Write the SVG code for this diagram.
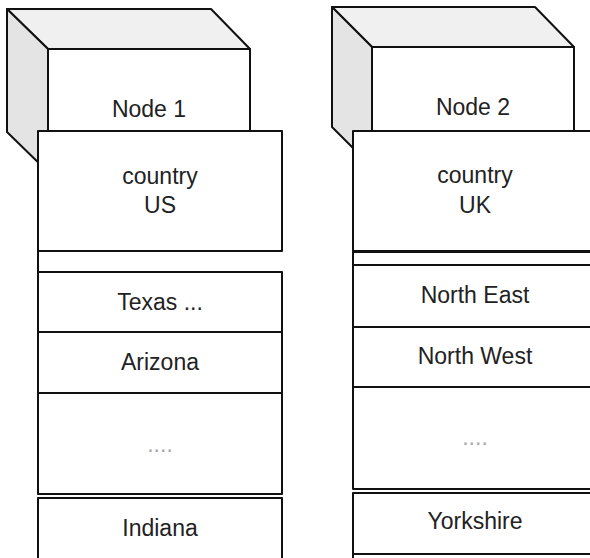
<svg xmlns="http://www.w3.org/2000/svg" width="590" height="558" viewBox="0 0 590 558">
  <style>
    .edge { stroke: #111; stroke-width: 2; stroke-linejoin: round; }
    .top { fill: #f0f0f0; }
    .side { fill: #e4e4e4; }
    .face { fill: #ffffff; }
    .lbl { font-family: "Liberation Sans", Arial, sans-serif; font-size: 23px; fill: #222; text-anchor: middle; }
    .dots { font-family: "Liberation Sans", Arial, sans-serif; font-size: 23px; fill: #aaa; text-anchor: middle; }
  </style>

  <rect x="0" y="0" width="590" height="558" fill="#ffffff"/>

  <!-- First node: cube with a stack of partition rows -->
  <g id="node1">
    <polygon class="top edge" points="7,9 211,9 250,49 48,49"/>
    <polygon class="side edge" points="7,9 48,49 48,172 7,132"/>
    <rect class="face edge" x="48" y="49" width="202" height="123"/>
    <text class="lbl" x="149" y="117">Node 1</text>

    <rect class="face edge" x="38" y="131" width="244" height="120"/>
    <text class="lbl" x="160" y="184">country</text>
    <text class="lbl" x="160" y="213">US</text>

    <line class="edge" x1="38" y1="251" x2="38" y2="272"/>

    <rect class="face edge" x="38" y="272" width="244" height="60"/>
    <text class="lbl" x="160" y="310">Texas ...</text>
    <rect class="face edge" x="38" y="332" width="244" height="61"/>
    <text class="lbl" x="160" y="370">Arizona</text>
    <rect class="face edge" x="38" y="393" width="244" height="101"/>
    <text class="dots" x="160" y="452">....</text>
    <rect class="face edge" x="38" y="498" width="244" height="70"/>
    <text class="lbl" x="160" y="536">Indiana</text>
  </g>

  <!-- Second node: cube with a stack of partition rows -->
  <g id="node2">
    <polygon class="top edge" points="332,7 535,7 574,47 372,47"/>
    <polygon class="side edge" points="332,7 372,47 372,167 332,127"/>
    <rect class="face edge" x="372" y="47" width="202" height="120"/>
    <text class="lbl" x="473" y="115">Node 2</text>

    <rect class="face edge" x="353" y="131" width="244" height="120"/>
    <text class="lbl" x="475" y="183">country</text>
    <text class="lbl" x="475" y="213">UK</text>

    <rect class="face edge" x="353" y="252" width="244" height="13"/>

    <rect class="face edge" x="353" y="265" width="244" height="62"/>
    <text class="lbl" x="475" y="303">North East</text>
    <rect class="face edge" x="353" y="327" width="244" height="60"/>
    <text class="lbl" x="475" y="364">North West</text>
    <rect class="face edge" x="353" y="387" width="244" height="102"/>
    <text class="dots" x="475" y="445">....</text>
    <rect class="face edge" x="353" y="493" width="244" height="61"/>
    <text class="lbl" x="475" y="529">Yorkshire</text>
    <rect class="face edge" x="353" y="554" width="244" height="20"/>
  </g>
</svg>
